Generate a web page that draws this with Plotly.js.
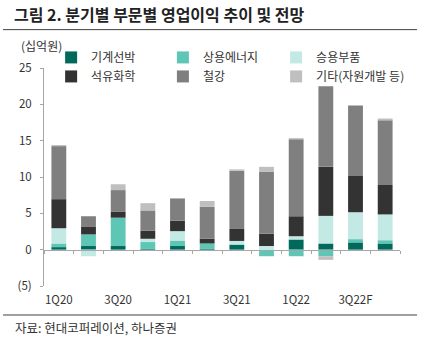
<!DOCTYPE html>
<html>
<head>
<meta charset="utf-8">
<script src="https://cdn.plot.ly/plotly-3.0.1.min.js"></script>
<style>
html,body{margin:0;padding:0;background:#fff;}
#chart{width:439px;height:348px;}
</style>
</head>
<body>
<div id="chart"></div>
<script>
// ---- data ----
const quarters = ['1Q20','2Q20','3Q20','4Q20','1Q21','2Q21','3Q21','4Q21','1Q22','2Q22','3Q22F','4Q22F'];
const quarterLabels = ['1Q20','','3Q20','','1Q21','','3Q21','','1Q22','','3Q22F',''];
const machinery   = [0.35, 0.5, 0.5, 0.1, 0.5, 0.1, 0.7, 0.0, 1.4, 0.85, 1.0, 0.85];   // 기계선박
const commEnergy  = [0.5, 1.6, 3.9, 0.95, 0.75, 0.75, 0.0, -0.9, -0.9, -0.9, 0.45, 0.45]; // 상용에너지
const carParts    = [2.1, -0.9, 0.0, 0.45, 1.3, 0.0, 0.5, 0.5, 0.45, 3.8, 3.7, 3.55];     // 승용부품
const petrochem   = [4.0, 1.1, 0.8, 1.1, 1.45, 0.65, 1.65, 1.7, 2.75, 6.75, 5.0, 4.05];  // 석유화학
const steel       = [7.3, 1.4, 3.0, 2.8, 3.05, 4.4, 8.0, 8.5, 10.6, 11.1, 9.7, 8.9];     // 철강
const others      = [0.15, 0.0, 0.8, 1.0, 0.0, 0.8, 0.2, 0.7, 0.15, -0.5, 0.05, 0.25];   // 기타(자원개발 등)
const yTickVals   = [-5, 0, 5, 10, 15, 20, 25];
const yTickText   = ['(5)', '0', '5', '10', '15', '20', '25'];

const seriesNames  = ['기계선박','상용에너지','승용부품','석유화학','철강','기타(자원개발 등)'];
const seriesData   = [machinery, commEnergy, carParts, petrochem, steel, others];
const seriesColors = ['#00695c','#5ec6b5','#c3e9e4','#333333','#7f7f7f','#bfbfbf'];
const seriesLegend = ['legend','legend2','legend3','legend','legend2','legend3'];

const FONT = '"Noto Sans CJK KR", "Noto Sans", sans-serif';
const TXT = '#333333';
const AX = '#a6a6a6';

const traces = seriesData.map((vals, i) => ({
  type: 'bar',
  name: seriesNames[i],
  legend: seriesLegend[i],
  x: quarters,
  y: vals,
  marker: {color: seriesColors[i], line: {width: 0}},
  hoverinfo: 'x+y+name'
}));

function legendBox(x) {
  return {
    orientation: 'v',
    x: x, xanchor: 'left',
    y: 1.115, yanchor: 'top',
    font: {family: FONT, size: 12, color: TXT},
    bgcolor: 'rgba(0,0,0,0)',
    traceorder: 'normal',
    itemclick: false
  };
}

const layout = {
  width: 439, height: 348,
  margin: {l: 44, r: 39, t: 68, b: 62},
  paper_bgcolor: '#fff', plot_bgcolor: '#fff',
  font: {family: FONT, color: TXT, size: 12},
  barmode: 'relative',
  bargap: 0.5,
  showlegend: true,
  legend: legendBox(0.02),
  legend2: legendBox(0.334),
  legend3: legendBox(0.652),
  xaxis: {
    type: 'category',
    categoryorder: 'array', categoryarray: quarters,
    anchor: 'free', position: 5/30,
    showline: true, linecolor: AX, linewidth: 1,
    ticks: 'outside', ticklen: 3, tickcolor: AX, tickwidth: 1,
    tickson: 'boundaries',
    tickmode: 'array', tickvals: quarters, ticktext: quarterLabels,
    tickangle: 0,
    ticklabelstandoff: 40,
    tickfont: {family: FONT, size: 11.5, color: TXT},
    showgrid: false, zeroline: false,
    fixedrange: true
  },
  yaxis: {
    range: [-5, 25],
    tickmode: 'array', tickvals: yTickVals, ticktext: yTickText,
    showline: true, linecolor: AX, linewidth: 1,
    ticks: 'outside', ticklen: 3, tickcolor: AX,
    ticklabelstandoff: 6,
    tickfont: {family: FONT, size: 11.5, color: TXT},
    showgrid: false, zeroline: false,
    fixedrange: true
  },
  shapes: [
    {type: 'line', xref: 'paper', yref: 'paper', x0: -0.115, x1: 1.048, y0: 1.176, y1: 1.176,
     line: {color: '#404040', width: 1}},
    {type: 'line', xref: 'paper', yref: 'paper', x0: -0.115, x1: 1.048, y0: -0.133, y1: -0.133,
     line: {color: '#404040', width: 1}}
  ],
  annotations: [
    {text: '<b>그림 2. 분기별 부문별 영업이익 추이 및 전망</b>', xref: 'paper', yref: 'paper',
     x: -0.09, y: 1.248, xanchor: 'left', yanchor: 'middle', showarrow: false,
     font: {family: FONT, size: 16, color: '#222'}},
    {text: '(십억원)', xref: 'paper', yref: 'paper',
     x: -0.006, y: 1.103, xanchor: 'center', yanchor: 'middle', showarrow: false,
     font: {family: FONT, size: 12, color: TXT}},
    {text: '자료: 현대코퍼레이션, 하나증권', xref: 'paper', yref: 'paper',
     x: -0.088, y: -0.19, xanchor: 'left', yanchor: 'middle', showarrow: false,
     font: {family: FONT, size: 12.5, color: TXT}}
  ]
};

Plotly.newPlot('chart', traces, layout, {displayModeBar: false, staticPlot: true});
</script>
</body>
</html>
